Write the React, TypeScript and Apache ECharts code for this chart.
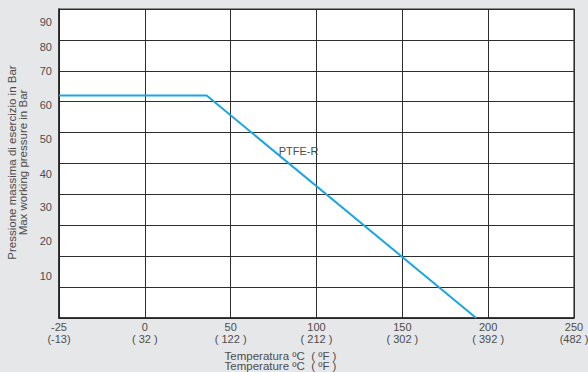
import React, { useEffect, useRef } from "react";
import * as echarts from "echarts";

// Data
const seriesName = "PTFE-R";
const tempC = [-50, 36, 193];
const pressureBar = [62, 62, -10];
const xTickC = ["-25", "0", "50", "100", "150", "200", "250"];
const xTickF = ["(-13)", "( 32 )", "( 122 )", "( 212 )", "( 302 )", "( 392 )", "(482 )"];
const yTickLabels = [10, 20, 30, 40, 50, 60, 70, 80, 90];
const labelPoint = [78, 44];
const yName = ["Pressione massima di esercizio in Bar", "Max working pressure in Bar"];
const xName = ["Temperatura ºC  ( ºF )", "Temperature ºC  ( ºF )"];

const FONT = "'Liberation Sans', Arial, sans-serif";
const TXT = "#4d4d4d";

export default function App() {
  const ref = useRef<HTMLDivElement>(null);
  useEffect(() => {
    document.body.style.margin = "0";
    if (!ref.current) return;
    const chart = echarts.init(ref.current, null, { renderer: "svg" });
    // downward shift (px) of each y tick label, as in the original print
    const shift: Record<number, number> = { 10: 20, 20: 16, 30: 13, 40: 10, 50: 6, 60: 3, 70: 0, 80: 7, 90: 13 };
    const rich: Record<string, any> = {};
    yTickLabels.forEach((v) => {
      rich["y" + v] = {
        padding: [shift[v] * 2, 0, 0, 0],
        fontSize: 11,
        fontFamily: FONT,
        color: TXT,
        lineHeight: v === 90 ? 8 : 12,
      };
    });
    const option: any = {
      animation: false,
      backgroundColor: "#e6e7e8",
      textStyle: { fontFamily: FONT },
      grid: {
        left: 59,
        right: 14,
        top: 9,
        bottom: 54,
        show: true,
        backgroundColor: "#ffffff",
        borderColor: "#333333",
        borderWidth: 1.2,
        containLabel: false,
        outerBoundsMode: "none",
      },
      xAxis: {
        type: "value",
        min: -50,
        max: 250,
        interval: 50,
        name: xName.join("\n"),
        nameLocation: "middle",
        nameGap: 29,
        nameTextStyle: {
          fontSize: 11.5,
          fontFamily: FONT,
          color: TXT,
          lineHeight: 10.5,
          padding: [0, 72, 0, 0],
        },
        axisLine: { show: true, onZero: false, lineStyle: { color: "#222", width: 1.5 } },
        axisTick: { show: false },
        splitLine: { show: true, lineStyle: { color: "#2e2e2e", width: 1 } },
        axisLabel: {
          margin: 3,
          fontSize: 11,
          fontFamily: FONT,
          color: TXT,
          lineHeight: 12,
          showMinLabel: true,
          showMaxLabel: true,
          formatter: (v: number) => {
            const i = Math.round((v + 50) / 50);
            return xTickC[i] !== undefined ? xTickC[i] + "\n" + xTickF[i] : "";
          },
        },
      },
      yAxis: {
        type: "value",
        min: -10,
        max: 90,
        interval: 10,
        name: yName.join("\n"),
        nameLocation: "middle",
        nameGap: 28,
        nameTextStyle: {
          fontSize: 11.5,
          fontFamily: FONT,
          color: TXT,
          lineHeight: 11,
          padding: [0, 0, 0, 2],
        },
        axisLine: { show: true, onZero: false, lineStyle: { color: "#222", width: 1.5 } },
        axisTick: { show: false },
        splitLine: { show: true, lineStyle: { color: "#2e2e2e", width: 1 } },
        axisLabel: {
          margin: 7,
          fontSize: 11,
          fontFamily: FONT,
          color: TXT,
          rich,
          showMinLabel: true,
          showMaxLabel: true,
          hideOverlap: false,
          formatter: (v: number) => (yTickLabels.indexOf(v) >= 0 ? `{y${v}|${v}}` : ""),
        },
      },
      series: [
        {
          name: seriesName,
          type: "line",
          data: tempC.map((t, i) => [t, pressureBar[i]]),
          showSymbol: false,
          clip: true,
          lineStyle: { color: "#1ba6e3", width: 2 },
          markPoint: {
            symbol: "circle",
            symbolSize: 0,
            data: [{ coord: labelPoint }],
            label: {
              show: true,
              position: "right",
              distance: 0,
              formatter: () => seriesName,
              fontSize: 11,
              fontFamily: FONT,
              color: TXT,
            },
          },
        },
      ],
    };
    chart.setOption(option);
    return () => chart.dispose();
  }, []);
  return <div ref={ref} style={{ width: 588, height: 372 }} />;
}
